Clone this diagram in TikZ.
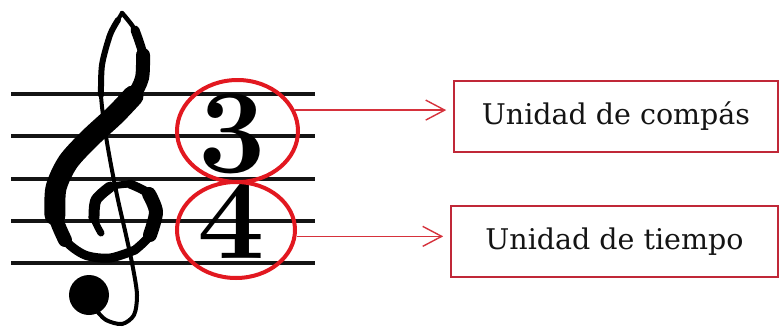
\documentclass[tikz,border=0pt]{standalone}
\usepackage{fontspec}
\newfontfamily\boxfont{DejaVu Serif}
\usetikzlibrary{arrows.meta,shapes.geometric}
\definecolor{ringred}{RGB}{226,24,32}
\definecolor{boxred}{RGB}{192,40,56}
\definecolor{arrred}{RGB}{214,50,60}
\definecolor{ink}{RGB}{20,20,20}
\begin{document}
\begin{tikzpicture}[x=1pt,y=-1pt,
  staffline/.style={line width=3.5pt, draw=ink},
  ring/.style={ellipse, draw=ringred, line width=4pt, inner sep=0pt},
  labelbox/.style={draw=boxred, line width=1.6pt, minimum height=71pt, inner sep=0pt,
    font=\boxfont\fontsize{28.5}{30}\selectfont, text=ink},
  pointer/.style={draw=arrred, line width=1.4pt, shorten >=7pt,
    -{Straight Barb[length=19pt,width=20pt,line width=1.4pt]}},
  clefline/.style={line width=#1, line cap=round, line join=round, draw=black},
  numeral/.style={font=\fontsize{120}{120}\selectfont\bfseries, inner sep=0pt, text=black}
]
\useasboundingbox (0,0) rectangle (780,327);
\fill[white] (0,0) rectangle (780,327);
% staff
\foreach \yy in {94,136,179,221,263} \draw[staffline] (11,\yy) -- (315,\yy);
% clef: main spiral
\draw[clefline=4.5pt] plot[smooth] coordinates {(122,13) (135,30) (143,55) (142,78) (133,96) (115,115) (90,138) (68,162) (56,188) (55,215) (65,240) (85,255) (110,258) (135,250) (150,235) (156,212) (149,194) (130,184) (110,187) (96,200) (94,218) (101,233)};
\draw[clefline=9pt] plot[smooth] coordinates {(135,30) (143,55) (142,78) (133,96) (115,115) (90,138) (68,162) (56,188) (55,215) (65,240) (85,255) (110,258) (135,250)};
\draw[clefline=14pt] plot[smooth] coordinates {(143,55) (142,78) (133,96) (115,115) (90,138) (68,162) (56,188) (55,215) (65,240)};
\draw[clefline=21pt] plot[smooth] coordinates {(133,96) (115,115) (90,138) (68,162) (56,188) (55,215)};
\draw[clefline=9pt] plot[smooth] coordinates {(135,250) (150,235) (156,212) (149,194) (130,184)};
\draw[clefline=14pt] plot[smooth] coordinates {(150,235) (156,212) (149,194)};
\draw[clefline=7pt] plot[smooth] coordinates {(130,184) (110,187) (96,200) (94,218) (101,233)};
\draw[clefline=11pt] plot[smooth] coordinates {(110,187) (96,200) (94,218)};
% clef: stem
\draw[clefline=4pt] plot[smooth] coordinates {(122,13) (110,35) (102,65) (101,95) (105,130) (111,165) (118,200) (126,235) (133,268) (137,295) (134,315) (122,324) (106,320) (96,310)};
\draw[clefline=6pt] plot[smooth] coordinates {(118,20) (110,35) (102,65) (101,95)};
\fill[black] (89,295) circle[radius=20];
% time signature
\node[numeral] (n3) at (232,134) {3};
\node[numeral] (n4) at (231,219) {4};
\node[ring, minimum width=121pt, minimum height=102pt] (c3) at (237.5,131) {};
\node[ring, minimum width=118pt, minimum height=96pt] (c4) at (236,230) {};
% boxes
\node[labelbox, minimum width=324pt] (b1) at (616,116.5) {Unidad de compás};
\node[labelbox, minimum width=327pt] (b2) at (614.5,241.5) {Unidad de tiempo};
% pointers
\draw[pointer] (c3.20) -- (c3.20 -| b1.west);
\draw[pointer] (c4.-6) -- (c4.-6 -| b2.west);
\end{tikzpicture}
\end{document}
